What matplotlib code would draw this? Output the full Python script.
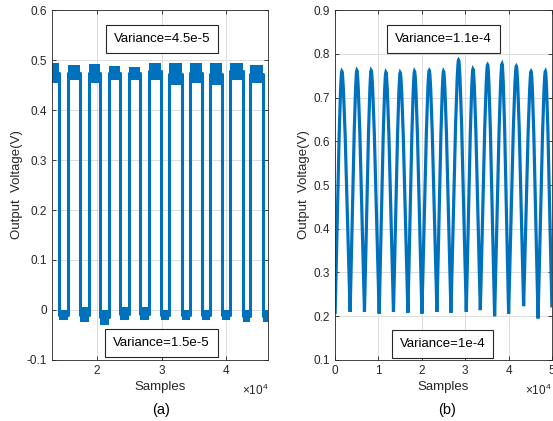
import matplotlib.pyplot as plt
from matplotlib.path import Path
from matplotlib.patches import PathPatch

plt.rcParams['font.family'] = ['Liberation Sans', 'DejaVu Sans']
plt.rcParams['mathtext.fontset'] = 'custom'
plt.rcParams['mathtext.rm'] = 'Liberation Sans'
plt.rcParams['mathtext.it'] = 'Liberation Sans'

BLUE = '#0072BD'
DARK = '#262626'

# panel (a): square wave, edge positions (samples) alternate fall / rise
edges_a = [14030, 15500, 17290, 18680, 20390, 21780, 23570, 24880, 26670, 28060,
           29920, 31160, 33100, 34340, 36280, 37440, 39380, 40620, 42560, 43720, 45740]
high_top_a = [0.495, 0.490, 0.492, 0.488, 0.487, 0.495, 0.495, 0.495, 0.495, 0.495, 0.490]
high_bot_a = [0.455, 0.460, 0.455, 0.460, 0.460, 0.460, 0.450, 0.455, 0.450, 0.460, 0.455]
low_top_a = [0.000, 0.005, 0.000, 0.005, 0.005, 0.000, 0.000, 0.000, 0.000, 0.000, 0.000]
low_bot_a = [-0.020, -0.025, -0.030, -0.020, -0.020, -0.020, -0.020, -0.020, -0.020, -0.025, -0.025]
xlim_a = (13000, 46500)

# panel (b): triangular-ish wave, peaks and troughs
trough_x_b = [0, 3460, 6770, 10160, 13460, 16790, 20020, 23480, 26720, 30250,
              33490, 36790, 40020, 43480, 46810, 50000]
trough_y_b = [0.205, 0.210, 0.210, 0.206, 0.210, 0.208, 0.206, 0.210, 0.208, 0.210,
              0.214, 0.200, 0.206, 0.223, 0.195, 0.220]
peak_x_b = [1550, 5010, 8310, 11710, 15010, 18310, 21710, 25010, 28480, 31800,
            35170, 38500, 41800, 45200, 48500]
peak_y_b = [0.760, 0.762, 0.762, 0.758, 0.757, 0.760, 0.762, 0.760, 0.786, 0.765,
            0.775, 0.777, 0.772, 0.760, 0.760]


def style(ax):
    ax.grid(True, color='#dcdcdc', linewidth=0.7)
    ax.set_axisbelow(True)
    ax.tick_params(direction='in', top=True, right=True, labelsize=8.5,
                   colors=DARK, length=3, width=0.6)
    for s in ax.spines.values():
        s.set_color(DARK)
        s.set_linewidth(0.6)
    ax.set_xlabel('Samples', fontsize=9.5, color=DARK, labelpad=3)
    ax.set_ylabel('Output  Voltage(V)', fontsize=9.5, color=DARK, labelpad=3)


def varbox(ax, x, y, s):
    ax.text(x, y, s, ha='center', va='center', fontsize=9.5, color='black',
            bbox=dict(boxstyle='square,pad=0.6', fc='white', ec=DARK, lw=0.8))


fig = plt.figure(figsize=(5.53, 4.21), dpi=100)
axa = fig.add_axes([0.094, 0.145, 0.391, 0.831])
axb = fig.add_axes([0.606, 0.145, 0.392, 0.831])

# ---- (a)
starts = [xlim_a[0]] + edges_a[1::2]
ends = edges_a[0::2]
lends = edges_a[1::2] + [xlim_a[1]]
path_x, path_y = [], []
for i in range(len(starts)):
    mh = (high_top_a[i] + high_bot_a[i]) / 2
    ml = (low_top_a[i] + low_bot_a[i]) / 2
    axa.fill_between([starts[i], ends[i]], high_bot_a[i], high_top_a[i], color=BLUE, lw=0)
    axa.fill_between([ends[i], lends[i]], low_bot_a[i], low_top_a[i], color=BLUE, lw=0)
    path_x += [starts[i], ends[i], ends[i], lends[i]]
    path_y += [mh, mh, ml, ml]
axa.plot(path_x, path_y, color=BLUE, lw=2.2)
axa.set_xlim(*xlim_a)
axa.set_ylim(-0.1, 0.6)
axa.set_xticks([20000, 30000, 40000])
axa.set_xticklabels(['2', '3', '4'])
axa.set_yticks([-0.1, 0, 0.1, 0.2, 0.3, 0.4, 0.5, 0.6])
axa.set_yticklabels(['-0.1', '0', '0.1', '0.2', '0.3', '0.4', '0.5', '0.6'])
style(axa)
varbox(axa, 30000, 0.542, 'Variance=4.5e-5')
varbox(axa, 30000, -0.066, 'Variance=1.5e-5')
axa.text(1.0, -0.065, r'$\times10^{4}$', transform=axa.transAxes, ha='right',
         va='top', fontsize=8.5, color=DARK)
fig.text(0.291, 0.026, '(a)', ha='center', va='center', fontsize=10.5)

# ---- (b) smooth hump between each trough and peak (cubic bezier)
verts = [(trough_x_b[0], trough_y_b[0])]
codes = [Path.MOVETO]
for i in range(len(peak_x_b)):
    tx, ty = trough_x_b[i], trough_y_b[i]
    px, py = peak_x_b[i], peak_y_b[i]
    nx, ny = trough_x_b[i + 1], trough_y_b[i + 1]
    d1, d2 = px - tx, nx - px
    verts += [(tx + 0.2 * d1, ty + 0.2 * (py - ty)), (px - 0.3 * d1, py), (px, py)]
    verts += [(px + 0.3 * d2, py), (nx - 0.2 * d2, ny + 0.2 * (py - ny)), (nx, ny)]
    codes += [Path.CURVE4] * 6
axb.add_patch(PathPatch(Path(verts, codes), fill=False, ec=BLUE, lw=2.3))
axb.set_xlim(0, 50000)
axb.set_ylim(0.1, 0.9)
axb.set_xticks([0, 10000, 20000, 30000, 40000, 50000])
axb.set_xticklabels(['0', '1', '2', '3', '4', '5'])
axb.set_yticks([0.1, 0.2, 0.3, 0.4, 0.5, 0.6, 0.7, 0.8, 0.9])
style(axb)
varbox(axb, 25060, 0.834, 'Variance=1.1e-4')
varbox(axb, 24830, 0.137, 'Variance=1e-4')
axb.text(1.0, -0.065, r'$\times10^{4}$', transform=axb.transAxes, ha='right',
         va='top', fontsize=8.5, color=DARK)
fig.text(0.808, 0.026, '(b)', ha='center', va='center', fontsize=10.5)

fig.savefig('out.png', dpi=100)
